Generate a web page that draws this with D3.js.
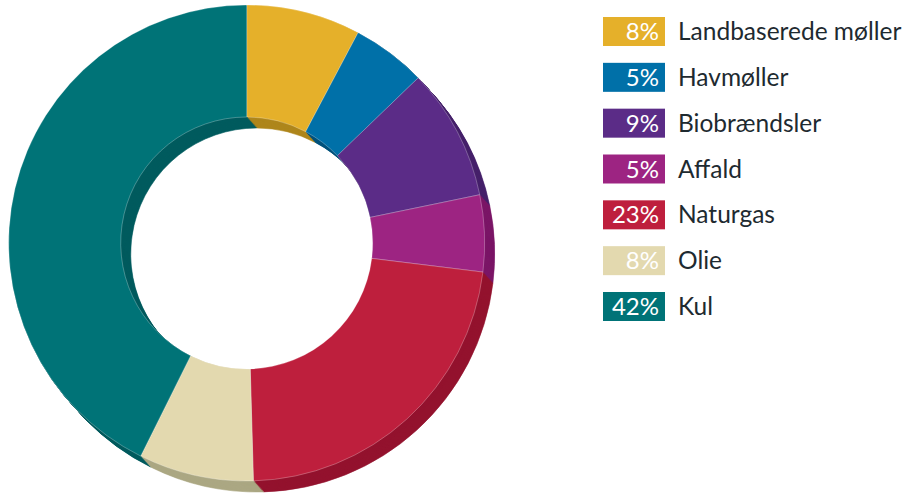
<!DOCTYPE html>
<html lang="da">
<head>
<meta charset="UTF-8">
<title>Energiforbrug</title>
<script src="https://cdn.jsdelivr.net/npm/d3@7"></script>
<style>
    body { margin: 0; background: #fff; }
    .pct { font-family: Lato, sans-serif; font-size: 24px; fill: #fff; }
    .lbl { font-family: Lato, sans-serif; font-size: 24.5px; fill: #1e2a30; }
</style>
</head>
<body>
<svg width="909" height="493"></svg>
<script>
    // andele i procent (læst af figuren), og de afrundede etiketter
    const categories = ["Landbaserede møller", "Havmøller", "Biobrændsler", "Affald", "Naturgas", "Olie", "Kul"];
    const values = [7.75, 5.05, 8.95, 5.2, 22.6, 7.8, 42.65];
    const labels = ["8%", "5%", "9%", "5%", "23%", "8%", "42%"];
    const colors = ["#e5b02a", "#0070a8", "#5b2c87", "#9d2482", "#be1f3d", "#e3d9af", "#007377"];
    const sideColors = ["#ae861c", "#00527c", "#45206a", "#7b1566", "#93122e", "#aba783", "#005b5e"];

    const svg = d3.select("svg");
    const cx = 246.7, cy = 243;
    const outerR = 238, innerR = 126;
    const depthX = 10, depthY = 11;

    const pie = d3.pie().sort(null).value(d => d);
    const arcs = pie(values);
    const arc = d3.arc().innerRadius(innerR).outerRadius(outerR);

    // side of the ring: stack of shifted copies, back to front
    const steps = 12;
    for (let i = steps; i >= 1; i--) {
        svg.append("g")
            .attr("transform", `translate(${cx + depthX * i / steps},${cy + depthY * i / steps})`)
            .selectAll("path")
            .data(arcs)
            .join("path")
            .attr("d", arc)
            .attr("fill", (d, j) => sideColors[j])
            .attr("stroke", (d, j) => sideColors[j])
            .attr("stroke-width", 0.6);
    }

    // front face
    svg.append("g")
        .attr("transform", `translate(${cx},${cy})`)
        .selectAll("path")
        .data(arcs)
        .join("path")
        .attr("d", arc)
        .attr("fill", (d, j) => colors[j])
        .attr("stroke", "rgba(255,255,255,0.45)")
        .attr("stroke-width", 0.6);

    // legend
    const legendY = d3.scaleLinear().domain([0, categories.length - 1]).range([17, 292]);
    const legend = svg.append("g").selectAll("g")
        .data(categories)
        .join("g")
        .attr("transform", (d, i) => `translate(603,${legendY(i)})`);

    legend.append("rect")
        .attr("width", 62)
        .attr("height", 29)
        .attr("fill", (d, i) => colors[i]);

    legend.append("text")
        .attr("class", "pct")
        .attr("x", 56)
        .attr("y", 23)
        .attr("text-anchor", "end")
        .text((d, i) => labels[i]);

    legend.append("text")
        .attr("class", "lbl")
        .attr("x", 75)
        .attr("y", 23)
        .text(d => d);
</script>
</body>
</html>
